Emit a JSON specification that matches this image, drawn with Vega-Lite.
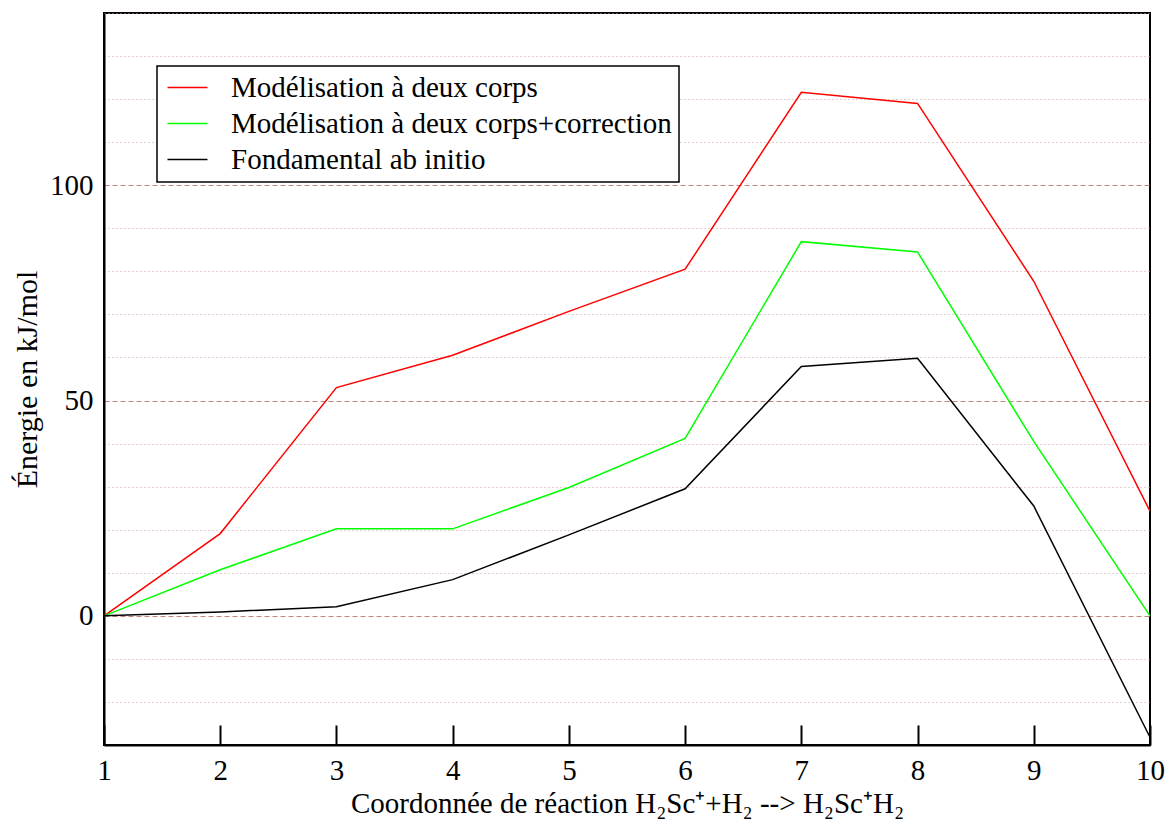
{
  "$schema": "https://vega.github.io/schema/vega-lite/v6.json",
  "width": 1046,
  "height": 732,
  "autosize": {"type": "none"},
  "padding": {"left": 104, "top": 13, "right": 19, "bottom": 80},
  "background": "white",
  "config": {
    "font": "Liberation Serif",
    "view": {"stroke": "black", "strokeWidth": 2},
    "legend": {"strokeWidth": 1.5}
  },
  "data": {
    "values": [
      {"x": 1, "e": 0, "s": "Modélisation à deux corps"},
      {"x": 2, "e": 19.1, "s": "Modélisation à deux corps"},
      {"x": 3, "e": 53.0, "s": "Modélisation à deux corps"},
      {"x": 4, "e": 60.5, "s": "Modélisation à deux corps"},
      {"x": 5, "e": 70.7, "s": "Modélisation à deux corps"},
      {"x": 6, "e": 80.5, "s": "Modélisation à deux corps"},
      {"x": 7, "e": 121.6, "s": "Modélisation à deux corps"},
      {"x": 8, "e": 119.0, "s": "Modélisation à deux corps"},
      {"x": 9, "e": 77.7, "s": "Modélisation à deux corps"},
      {"x": 10, "e": 24.3, "s": "Modélisation à deux corps"},
      {"x": 1, "e": 0, "s": "Modélisation à deux corps+correction"},
      {"x": 2, "e": 10.7, "s": "Modélisation à deux corps+correction"},
      {"x": 3, "e": 20.2, "s": "Modélisation à deux corps+correction"},
      {"x": 4, "e": 20.2, "s": "Modélisation à deux corps+correction"},
      {"x": 5, "e": 29.8, "s": "Modélisation à deux corps+correction"},
      {"x": 6, "e": 41.2, "s": "Modélisation à deux corps+correction"},
      {"x": 7, "e": 86.9, "s": "Modélisation à deux corps+correction"},
      {"x": 8, "e": 84.5, "s": "Modélisation à deux corps+correction"},
      {"x": 9, "e": 40.5, "s": "Modélisation à deux corps+correction"},
      {"x": 10, "e": 0, "s": "Modélisation à deux corps+correction"},
      {"x": 1, "e": 0, "s": "Fondamental ab initio"},
      {"x": 2, "e": 0.9, "s": "Fondamental ab initio"},
      {"x": 3, "e": 2.1, "s": "Fondamental ab initio"},
      {"x": 4, "e": 8.4, "s": "Fondamental ab initio"},
      {"x": 5, "e": 18.8, "s": "Fondamental ab initio"},
      {"x": 6, "e": 29.5, "s": "Fondamental ab initio"},
      {"x": 7, "e": 57.9, "s": "Fondamental ab initio"},
      {"x": 8, "e": 59.8, "s": "Fondamental ab initio"},
      {"x": 9, "e": 25.5, "s": "Fondamental ab initio"},
      {"x": 10, "e": -28.2, "s": "Fondamental ab initio"}
    ]
  },
  "mark": {"type": "line", "strokeWidth": 1.5},
  "encoding": {
    "x": {
      "field": "x",
      "type": "quantitative",
      "scale": {"domain": [1, 10], "nice": false, "zero": false},
      "axis": {
        "values": [1, 2, 3, 4, 5, 6, 7, 8, 9, 10],
        "grid": false,
        "domainColor": "black",
        "domainWidth": 2,
        "tickColor": "black",
        "tickWidth": 2,
        "tickSize": -20,
        "labelPadding": 31,
        "labelFont": "Liberation Serif",
        "labelFontSize": 29,
        "labelColor": "black",
        "labelFlush": false,
        "title": "Coordonnée de réaction H₂Sc⁺+H₂ --> H₂Sc⁺H₂",
        "titleFont": "Liberation Serif",
        "titleFontSize": 29,
        "titleFontWeight": "normal",
        "titleColor": "black",
        "titlePadding": 4
      }
    },
    "y": {
      "field": "e",
      "type": "quantitative",
      "scale": {"domain": [-30, 140], "nice": false, "zero": false},
      "axis": {
        "values": [-30, -20, -10, 0, 10, 20, 30, 40, 50, 60, 70, 80, 90, 100, 110, 120, 130, 140],
        "labelExpr": "datum.value % 50 === 0 ? datum.label : ''",
        "ticks": false,
        "grid": true,
        "gridColor": {"condition": {"test": "datum.value % 50 === 0", "value": "#c08484"}, "value": "#cc9c9c"},
        "gridDash": {"condition": {"test": "datum.value % 50 === 0", "value": [5, 3]}, "value": [1, 3]},
        "gridWidth": 1,
        "domainColor": "black",
        "domainWidth": 2,
        "labelPadding": 11,
        "labelFont": "Liberation Serif",
        "labelFontSize": 29,
        "labelColor": "black",
        "title": "Énergie en kJ/mol",
        "titleFont": "Liberation Serif",
        "titleFontSize": 30,
        "titleFontWeight": "normal",
        "titleColor": "black",
        "titlePadding": 7
      }
    },
    "color": {
      "field": "s",
      "type": "nominal",
      "sort": null,
      "scale": {
        "domain": ["Modélisation à deux corps", "Modélisation à deux corps+correction", "Fondamental ab initio"],
        "range": ["#ff0000", "#00ff00", "#000000"]
      },
      "legend": {
        "orient": "none",
        "legendX": 53,
        "legendY": 53,
        "title": null,
        "symbolType": "M-2,0H2",
        "symbolSize": 400,
        "symbolStrokeWidth": 1.5,
        "symbolOffset": 9,
        "labelFont": "Liberation Serif",
        "labelFontSize": 29,
        "labelColor": "black",
        "labelLimit": 1000,
        "labelOffset": 29,
        "rowPadding": 6,
        "padding": 7,
        "strokeColor": "black",
        "fillColor": "white"
      }
    }
  }
}
